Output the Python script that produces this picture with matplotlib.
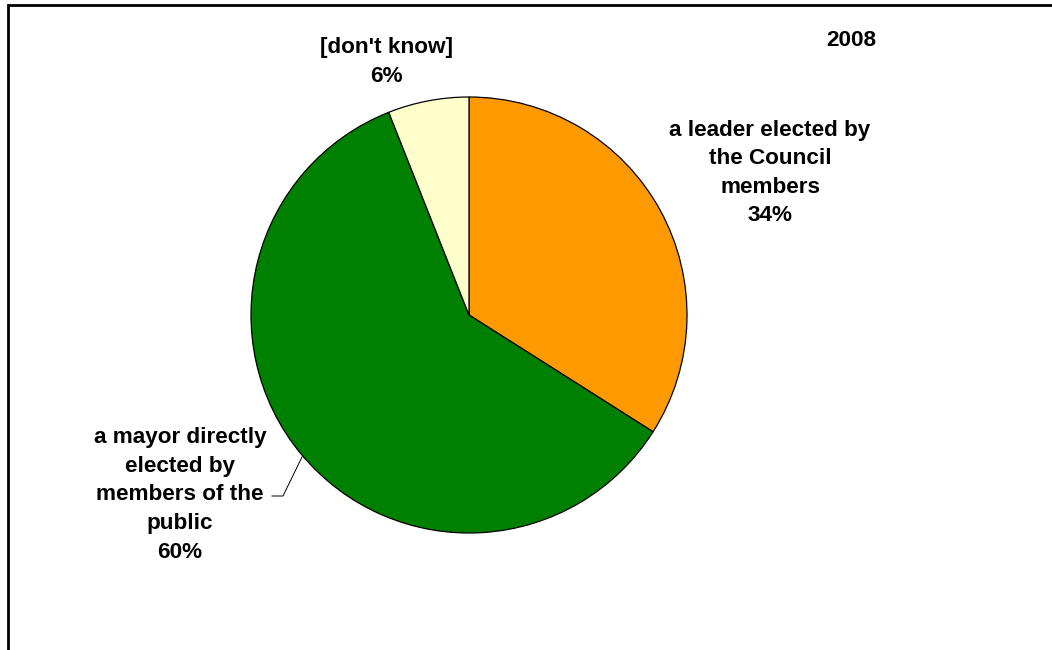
import matplotlib.pyplot as plt
from matplotlib.patches import Rectangle

# survey shares, clockwise from 12 o'clock
categories = [
    "a leader elected by\nthe Council\nmembers",
    "a mayor directly\nelected by\nmembers of the\npublic",
    "[don't know]",
]
shares = [34, 60, 6]
colours = ["#FF9900", "#008000", "#FFFFCC"]
year_label = "2008"

W, H = 1052, 650

plt.rcParams["font.family"] = ["Liberation Sans", "DejaVu Sans"]
plt.rcParams["font.weight"] = "bold"

fig = plt.figure(figsize=(W / 100, H / 100), dpi=100)
ax = fig.add_axes([0, 0, 1, 1])

# pie drawn in pixel space so the labels can sit where they belong
ax.pie(
    shares,
    colors=colours,
    startangle=90,
    counterclock=False,
    center=(469, H - 315),
    radius=218,
    wedgeprops=dict(edgecolor="black", linewidth=0.9),
    frame=True,
)
ax.set_xlim(0, W)
ax.set_ylim(0, H)
ax.set_aspect("equal")
ax.axis("off")

label_style = dict(
    ha="center",
    va="center",
    fontsize=16.2,
    fontweight="bold",
    linespacing=1.47,
    color="black",
)

ax.text(770, H - 173, f"{categories[0]}\n{shares[0]}%", **label_style)
ax.text(180, H - 495, f"{categories[1]}\n{shares[1]}%", **label_style)
ax.text(386, H - 62, f"{categories[2]}\n{shares[2]}%", **label_style)
ax.text(851, H - 40, year_label, **label_style)

# leader line for the green slice
ax.plot([272, 283, 302], [H - 496, H - 496, H - 457],
        color="black", linewidth=0.7)

# chart frame running off the right and bottom edges
ax.add_patch(Rectangle((8, -20), W + 20, H - 5 + 20,
                       fill=False, edgecolor="black", linewidth=2.0,
                       clip_on=False))

fig.savefig("out.png", dpi=100)
